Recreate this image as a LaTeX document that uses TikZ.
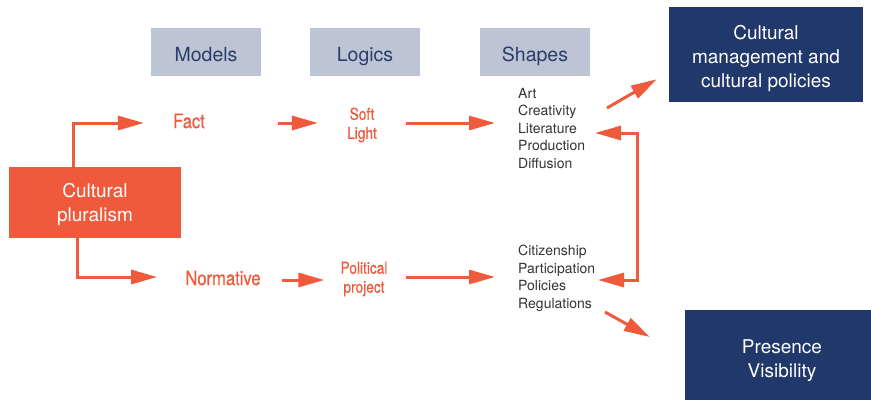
\documentclass[tikz,border=0pt]{standalone}
\usepackage{fontspec}
\setmainfont{TeX Gyre Heros}
\newfontfamily\condfont[FakeStretch=0.83,FakeBold=0.4]{TeX Gyre Heros}
\usetikzlibrary{arrows.meta,calc}
\definecolor{orng}{HTML}{F05A3C}
\definecolor{navy}{HTML}{21386A}
\definecolor{lgray}{HTML}{BDC5D5}
\definecolor{hdtext}{HTML}{2B3B6B}
\definecolor{listtext}{HTML}{333333}
\begin{document}
\begin{tikzpicture}[x=1pt,y=-1pt,
 hdr/.style={fill=lgray, minimum width=110pt, minimum height=48pt, inner sep=0pt, text=hdtext, text height=18pt, text depth=0pt, font=\fontsize{19.5}{23}\selectfont},
 darkbox/.style={fill=navy, inner sep=0pt},
 darktext/.style={text=white, align=center, inner sep=0pt, font=\fontsize{19}{24}\selectfont},
 plurbox/.style={fill=orng, inner sep=0pt},
 plurtext/.style={text=white, align=center, inner sep=0pt, font=\fontsize{19}{24}\selectfont},
 lbl/.style={text=orng, inner sep=0pt, font=\condfont\fontsize{20}{24}\selectfont},
 small/.style={text=orng, inner sep=0pt, align=center, font=\condfont\fontsize{16.5}{19}\selectfont},
 lst/.style={text=listtext, inner sep=0pt, align=left, anchor=north west, font=\fontsize{14}{17.5}\selectfont},
 arr/.style={draw=orng, line width=3pt, -{Triangle[length=26pt,width=14pt]}},
 darr/.style={draw=orng, line width=3pt, {Triangle[length=26pt,width=14pt]}-{Triangle[length=26pt,width=14pt]}},
]
\useasboundingbox (0,0) rectangle (871,400);

% header boxes
\node[hdr] (models) at (206,52) {Models};
\node[hdr] (logics) at (365,52) {Logics};
\node[hdr] (shapes) at (535,52) {Shapes};

% dark boxes
\node[darkbox, minimum width=194pt, minimum height=95pt] (box1) at (766,54.5) {};
\node[darktext] (box1t) at (766,58) {Cultural\\management and\\cultural policies};
\node[darkbox, minimum width=186pt, minimum height=90pt] (box2) at (778,355) {};
\node[darktext] (box2t) at (782,361) {Presence\\Visibility};

% pluralism
\node[plurbox, minimum width=172pt, minimum height=71pt] (plur) at (95,202.5) {};
\node[plurtext] (plurt) at (95,204) {Cultural\\pluralism};

% labels
\node[lbl] (fact) at (189,121) {Fact};
\node[lbl] (norm) at (223,278) {Normative};
\node[small] (soft) at (362,125) {Soft\\Light};
\node[small] (pol) at (364,279) {Political\\project};

% lists
\node[lst] (list1) at (518,88) {Art\\Creativity\\Literature\\Production\\Diffusion};
\node[lst] (list2) at (518,245) {Citizenship\\Participation\\Policies\\Regulations};

% connectors
\draw[arr] ($(plur.north)+(-22,0)$) |- ($(fact.west)+(-29,2)$);
\draw[arr] ($(plur.south)+(-18,0)$) |- ($(norm.west)+(-28,-1)$);
\draw[arr] ($(fact.east)+(73,2)$) -- ($(soft.west)+(-29,-2)$);
\draw[arr] ($(soft.east)+(29,-2)$) -- ($(list1.north west)+(-23,35)$);
\draw[arr] ($(norm.east)+(21,2)$) -- ($(pol.west)+(-16,1)$);
\draw[arr] ($(pol.east)+(18,-2)$) -- ($(list2.north west)+(-23,32)$);
\draw[darr] ($(list1.north west)+(77,45)$) -- ++(42,0) |- ($(list2.north west)+(80,35)$);
\draw[arr] ($(list1.north west)+(89,20)$) -- ($(box1.south west)+(-12,-23)$);
\draw[arr] ($(list2.north west)+(87,67)$) -- ($(box2.west)+(-35,-18)$);
\end{tikzpicture}
\end{document}
